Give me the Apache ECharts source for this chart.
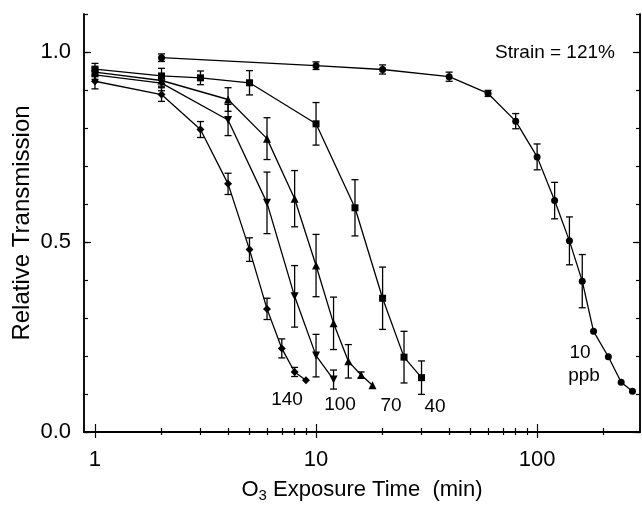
<!DOCTYPE html>
<html>
<head>
<meta charset="utf-8">
<script src="https://cdn.jsdelivr.net/npm/echarts@6/dist/echarts.min.js"></script>
<style>
  html, body { margin: 0; padding: 0; background: #fff; }
  #chart { width: 642px; height: 507px; }
</style>
</head>
<body>
<div id="chart"></div>
<script>
// exposure times (min), relative transmission and +/- error, per ozone level
const times10 = [2, 10, 20, 40, 60, 80, 100, 120, 140, 160, 180, 210, 240, 270]
const vals10 = [0.985, 0.964, 0.954, 0.935, 0.891, 0.818, 0.724, 0.609, 0.503, 0.397, 0.265, 0.198, 0.131, 0.107]
const errs10 = [0.01, 0.01, 0.012, 0.012, 0.008, 0.02, 0.034, 0.048, 0.063, 0.07, 0, 0, 0, 0]

const times40 = [1, 2, 3, 5, 10, 15, 20, 25, 30]
const vals40 = [0.955, 0.937, 0.932, 0.919, 0.811, 0.59, 0.352, 0.197, 0.143]
const errs40 = [0.015, 0.02, 0.018, 0.032, 0.056, 0.074, 0.082, 0.068, 0.044]

const times70 = [1, 2, 4, 6, 8, 10, 12, 14, 16, 18]
const vals70 = [0.947, 0.925, 0.875, 0.772, 0.614, 0.438, 0.286, 0.186, 0.15, 0.123]
const errs70 = [0.012, 0.015, 0.031, 0.055, 0.074, 0.082, 0.069, 0.044, 0.008, 0]

const times100 = [1, 2, 4, 6, 8, 10, 12]
const vals100 = [0.94, 0.918, 0.821, 0.603, 0.357, 0.201, 0.138]
const errs100 = [0.012, 0.02, 0.041, 0.081, 0.081, 0.056, 0.025]

const times140 = [1, 2, 3, 4, 5, 6, 7, 8, 9]
const vals140 = [0.923, 0.888, 0.796, 0.653, 0.48, 0.324, 0.22, 0.158, 0.136]
const errs140 = [0.02, 0.018, 0.021, 0.028, 0.031, 0.028, 0.025, 0.012, 0]

const majorX = [1, 10, 100]
const minorX = [2, 3, 4, 5, 6, 7, 8, 9, 20, 30, 40, 50, 60, 70, 80, 90, 200]
const majorY = [0, 0.5, 1.0]

const font = 'Liberation Sans, Arial, Helvetica, sans-serif'
const black = '#000'

const lineSeries = (times, vals, symbol, size, rotate) => ({
    type: 'line',
    data: times.map((t, i) => [t, vals[i]]),
    symbol,
    symbolSize: size,
    symbolRotate: rotate || 0,
    showAllSymbol: true,
    itemStyle: { color: black },
    lineStyle: { color: black, width: 1.3 },
    z: 3
})

const errorSeries = (times, vals, errs) => ({
    type: 'custom',
    data: times.map((t, i) => [t, vals[i] - errs[i], vals[i] + errs[i]]).filter((d, i) => errs[i] > 0),
    encode: { x: 0, y: [1, 2] },
    renderItem: (params, api) => {
        const lo = api.coord([api.value(0), api.value(1)])
        const hi = api.coord([api.value(0), api.value(2)])
        const w = 3.5
        const style = { stroke: black, lineWidth: 1.3 }
        return {
            type: 'group',
            children: [
                { type: 'line', shape: { x1: lo[0], y1: lo[1], x2: hi[0], y2: hi[1] }, style },
                { type: 'line', shape: { x1: lo[0] - w, y1: lo[1], x2: lo[0] + w, y2: lo[1] }, style },
                { type: 'line', shape: { x1: hi[0] - w, y1: hi[1], x2: hi[0] + w, y2: hi[1] }, style }
            ]
        }
    },
    z: 2
})

const xMin = 0.892
const xMax = 292
const axisLine = { show: true, lineStyle: { color: black, width: 1.5 } }
const tickStyle = { color: black, width: 1.2 }

const xAxis = (position, tickValues, len, withLabels) => ({
    type: 'log',
    logBase: 10,
    min: xMin,
    max: xMax,
    position,
    axisLine,
    axisTick: { show: true, inside: true, length: len, customValues: tickValues, lineStyle: tickStyle },
    minorTick: { show: false },
    splitLine: { show: false },
    axisLabel: withLabels
        ? { show: true, customValues: majorX, formatter: v => String(v), color: black, fontSize: 22, fontFamily: font, margin: 17 }
        : { show: false }
})

const yAxis = (position, isMajor, withLabels) => ({
    type: 'value',
    min: 0,
    max: 1.1,
    interval: 0.1,
    position,
    axisLine,
    axisTick: isMajor
        ? { show: true, inside: true, length: 7, customValues: majorY, lineStyle: tickStyle }
        : { show: true, inside: true, length: 4, lineStyle: tickStyle },
    splitLine: { show: false },
    axisLabel: withLabels
        ? { show: true, customValues: majorY, formatter: v => v.toFixed(1), color: black, fontSize: 22, fontFamily: font, margin: 13 }
        : { show: false }
})

const xs = [
    xAxis('bottom', majorX, 8, true),
    xAxis('bottom', minorX, 4, false),
    xAxis('top', majorX, 6, false),
    xAxis('top', minorX, 3, false)
]
xs[0].name = '{n|O}{s|3}{n| Exposure Time  (min)}'
xs[0].nameLocation = 'middle'
xs[0].nameGap = 44
xs[0].nameTextStyle = {
    rich: {
        n: { fontSize: 22, fontFamily: font, color: black },
        s: { fontSize: 15, fontFamily: font, color: black, verticalAlign: 'bottom', padding: [12, 0, 0, 0] }
    }
}

const ys = [
    yAxis('left', false, true),
    yAxis('left', true, false),
    yAxis('right', false, false),
    yAxis('right', true, false)
]
ys[0].name = 'Relative Transmission'
ys[0].nameLocation = 'middle'
ys[0].nameGap = 50
ys[0].nameMoveOverlap = false
ys[0].nameTextStyle = { fontSize: 24, fontFamily: font, color: black }

const label = (text, x, y) => ({
    type: 'text',
    x,
    y,
    style: { text, fontSize: 19, fontFamily: font, fill: black, align: 'center', verticalAlign: 'middle' }
})

const option = {
    backgroundColor: '#fff',
    animation: false,
    grid: { left: 84, right: 2, top: 14, bottom: 75, outerBoundsMode: 'none' },
    xAxis: xs,
    yAxis: ys,
    graphic: [
        label('Strain = 121%', 555, 53),
        label('140', 287, 400),
        label('100', 340, 405),
        label('70', 391, 406),
        label('40', 435, 407),
        label('10', 580, 353),
        label('ppb', 584, 376)
    ],
    series: [
        errorSeries(times10, vals10, errs10),
        errorSeries(times40, vals40, errs40),
        errorSeries(times70, vals70, errs70),
        errorSeries(times100, vals100, errs100),
        errorSeries(times140, vals140, errs140),
        lineSeries(times10, vals10, 'circle', 7),
        lineSeries(times40, vals40, 'rect', 7),
        lineSeries(times70, vals70, 'triangle', 8),
        lineSeries(times100, vals100, 'triangle', 8, 180),
        lineSeries(times140, vals140, 'diamond', 8)
    ]
}

const mChart = echarts.init(document.getElementById('chart'))
mChart.setOption(option)
</script>
</body>
</html>
